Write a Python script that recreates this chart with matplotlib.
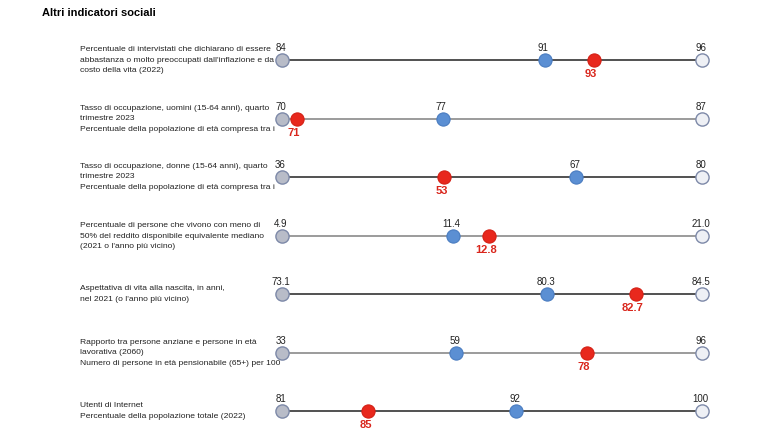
import matplotlib.pyplot as plt

plt.rcParams['font.family'] = ['Liberation Sans', 'DejaVu Sans']

title = 'Altri indicatori sociali'

indicators = [
    "Percentuale di intervistati che dichiarano di essere\nabbastanza o molto preoccupati dall'inflazione e da\ncosto della vita (2022)",
    "Tasso di occupazione, uomini (15-64 anni), quarto\ntrimestre 2023\nPercentuale della popolazione di età compresa tra i",
    "Tasso di occupazione, donne (15-64 anni), quarto\ntrimestre 2023\nPercentuale della popolazione di età compresa tra i",
    "Percentuale di persone che vivono con meno di\n50% del reddito disponibile equivalente mediano\n(2021 o l'anno più vicino)",
    "Aspettativa di vita alla nascita, in anni,\nnel 2021 (o l'anno più vicino)",
    "Rapporto tra persone anziane e persone in età\nlavorativa (2060)\nNumero di persone in età pensionabile (65+) per 100",
    "Utenti di Internet\nPercentuale della popolazione totale (2022)",
]

# lowest / highest country, OECD average, Italy
min_vals = [84, 70, 36, 4.9, 73.1, 33, 81]
max_vals = [96, 87, 80, 21.0, 84.5, 96, 100]
avg_vals = [91.5, 76.5, 66.8, 11.45, 80.3, 59.1, 91.6]
ita_vals = [92.9, 70.6, 53.0, 12.85, 82.7, 78.7, 84.9]

min_labels = ['84', '70', '36', '4.9', '73.1', '33', '81']
max_labels = ['96', '87', '80', '21.0', '84.5', '96', '100']
avg_labels = ['91', '77', '67', '11.4', '80.3', '59', '92']
ita_labels = ['93', '71', '53', '12.8', '82.7', '78', '85']

line_colors = ['#333333', '#8a8a8a', '#333333', '#8a8a8a', '#333333', '#8a8a8a', '#333333']

W, H = 767, 436
fig = plt.figure(figsize=(W / 100, H / 100), dpi=100)
fig.patch.set_facecolor('white')

fig.text(42 / W, 1 - 13 / H, title, fontsize=8, fontweight='bold', va='center', ha='left')

row_y = [60, 119, 177, 236, 294, 353, 411]
x0, x1 = 282, 702
ms = 9.5

for i, label in enumerate(indicators):
    yc = 1 - row_y[i] / H
    ax = fig.add_axes([x0 / W, yc - 10 / H, (x1 - x0) / W, 20 / H])
    ax.set_xlim(min_vals[i], max_vals[i])
    ax.set_ylim(-1, 1)
    ax.axis('off')

    ax.plot([min_vals[i], max_vals[i]], [0, 0], color=line_colors[i], lw=1.2, zorder=1, clip_on=False)
    ax.plot(min_vals[i], 0, 'o', ms=ms, mfc='#b8bcc8', mec='#7d89a8', mew=1, zorder=3, clip_on=False)
    ax.plot(max_vals[i], 0, 'o', ms=ms, mfc='#eef0f5', mec='#7d89a8', mew=1, zorder=3, clip_on=False)
    ax.plot(avg_vals[i], 0, 'o', ms=ms, mfc='#5b8fd3', mec='#4a7cc0', mew=0.8, zorder=4, clip_on=False)
    ax.plot(ita_vals[i], 0, 'o', ms=ms, mfc='#e8281d', mec='#d42015', mew=0.8, zorder=5, clip_on=False)

    for v, t in [(min_vals[i], min_labels[i]), (max_vals[i], max_labels[i]), (avg_vals[i], avg_labels[i])]:
        ax.annotate(t, (v, 0), xytext=(-1, 5), textcoords='offset points',
                    ha='center', va='bottom', fontsize=7, color='#222222', annotation_clip=False)
    ax.annotate(ita_labels[i], (ita_vals[i], 0), xytext=(-2, -6.5), textcoords='offset points',
                ha='center', va='top', fontsize=8, fontweight='bold', color='#d9261c',
                annotation_clip=False)

    fig.text(80 / W, yc, label, fontsize=6.1, va='center', ha='left', color='#222222',
             linespacing=1.62, zorder=0)

fig.savefig('out.png', dpi=100)
